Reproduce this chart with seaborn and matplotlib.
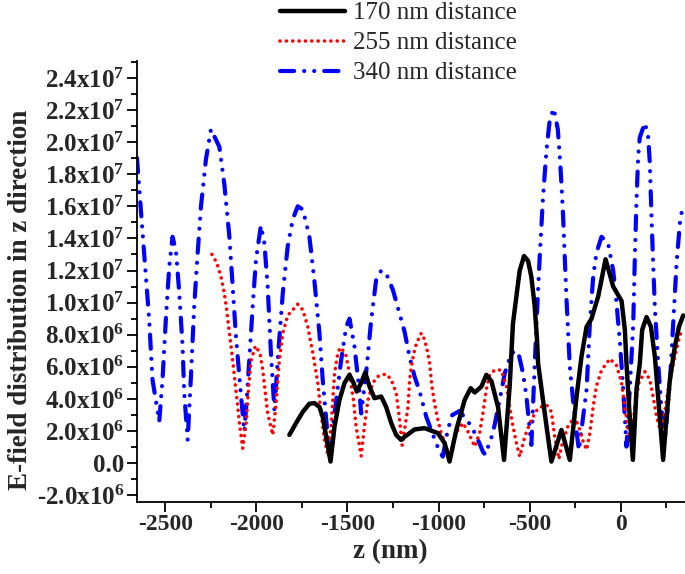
import matplotlib
matplotlib.use("Agg")
import matplotlib.pyplot as plt
import seaborn as sns
import pandas as pd
import numpy as np
from matplotlib.ticker import MultipleLocator, FixedLocator
from matplotlib.lines import Line2D

# ---- data (z in nm, E in units of 1e6) ----
z_170 = [-1819, -1782, -1745, -1709, -1681, -1654, -1636, -1617, -1593, -1571, -1544, -1516,
         -1489, -1467, -1449, -1425, -1403, -1379, -1352, -1315, -1288, -1260, -1233, -1206,
         -1196, -1132, -1077, -1004, -967, -940, -903, -857, -824, -802, -765, -738, -710,
         -674, -641, -610, -592, -573, -555, -531, -509, -491, -473, -460, -454, -408, -381,
         -326, -280, -243, -216, -188, -161, -124, -84, -42, 4, 22, 31, 44, 66, 86, 104, 117,
         141, 165, 187, 209, 232, 251, 269, 297, 319, 342]
e_170 = [1.76, 2.5, 3.2, 3.7, 3.74, 3.5, 2.9, 1.66, 0.1, 2.3, 3.94, 5.0,
         5.5, 5.0, 4.46, 5.0, 5.65, 4.77, 4.05, 4.15, 3.5, 2.5, 1.76, 1.45,
         1.56, 2.1, 2.18, 1.87, 1.25, 0.1, 2.07, 3.94, 4.67, 4.4, 4.77, 5.5, 5.1,
         3.5, 0.2, 4.8, 8.7, 10.4, 12.0, 12.9, 12.6, 11.6, 9.8, 7.7, 6.2, 2.3, 0.1,
         2.07, 0.2, 4.15, 6.64, 8.5, 9.0, 10.4, 12.7, 11.0, 10.1, 8.3, 6.2, 3.7, 0.2, 4.6, 6.2, 8.3,
         9.1, 8.5, 6.6, 3.5, 0.2, 2.9, 5.2, 7.3, 8.5, 9.2]

z_255 = [-2244, -2218, -2194, -2176, -2163, -2152, -2139, -2126, -2115, -2102, -2093, -2075,
         -2056, -2042, -2029, -2005, -1980, -1965, -1951, -1938, -1910,
         -1892, -1874, -1855, -1828, -1773, -1745, -1718, -1690, -1663, -1645, -1626, -1608,
         -1590, -1571, -1553, -1540, -1511, -1489, -1467, -1453, -1425,
         -1407, -1388, -1361, -1334, -1288, -1260, -1233, -1215, -1200,
         -1187, -1168, -1159, -1150, -1136, -1123, -1095, -1077, -1059, -1049, -1037, -1022,
         -1004, -986, -958, -940, -921, -894, -866, -839, -802, -775, -757, -738, -720, -692,
         -656, -628, -610, -592, -573, -555, -527, -491, -454, -408, -381, -363, -340,
         -326, -290, -253, -225, -207, -188, -170, -152, -134, -106, -60, -24, 4, 22, 37, 55,
         77, 99, 132, 159, 177, 196, 220, 242, 269, 297, 324, 342]
e_255 = [13.0, 12.5, 11.6, 10.6, 9.55, 8.5, 7.3, 6.0, 4.8, 3.5, 2.5, 0.93,
         2.5, 4.8, 6.4, 7.3, 6.85, 5.8, 4.4, 3.1, 1.76,
         3.7, 6.4, 8.1, 9.2, 9.9, 9.55, 8.5, 6.85, 5.0, 3.1, 1.45, 0.52,
         2.3, 5.6, 6.85, 7.2, 6.85, 5.6, 3.9, 2.3, 0.45,
         2.3, 3.9, 5.0, 5.4, 5.56, 5.2, 4.4, 2.8, 1.1,
         2.07, 3.5, 5.2, 6.0, 6.85, 7.4, 8.1, 7.7, 6.85, 6.2, 4.8, 3.7,
         2.7, 1.87, 1.03, 0.3, 1.25, 2.07, 2.5, 1.97, 1.03, 1.87, 3.1, 4.6, 5.5, 5.8,
         5.8, 4.8, 3.5, 2.3, 1.25, 0.41, 1.66, 2.7, 3.43, 3.63, 3.2, 1.66, 0.25,
         1.03, 2.3, 2.9, 2.07, 1.35, 0.83, 1.87, 3.5, 4.8, 5.8, 6.5, 6.1, 5.0, 3.5, 2.3, 1.25,
         3.5, 5.0, 5.7, 5.2, 4.15, 2.9, 1.87, 3.3, 5.2, 6.64, 8.0, 8.3]

z_340 = [-2655, -2634, -2607, -2588, -2570, -2533, -2515, -2496, -2478, -2460, -2441, -2423,
         -2405, -2396, -2377, -2359, -2341, -2322, -2304, -2277, -2249, -2203, -2176, -2148,
         -2130, -2112, -2084, -2066, -2048, -2020, -2002, -1975, -1956, -1938, -1920, -1901,
         -1883, -1855, -1828, -1800, -1773, -1745, -1709, -1682, -1654, -1636, -1617, -1599,
         -1571, -1535, -1507, -1489, -1462, -1434, -1425, -1398, -1370, -1343, -1315, -1287,
         -1251, -1214, -1187, -1159, -1132, -1104, -1068, -1031, -995, -977, -950, -925, -885,
         -820, -784, -757, -744, -702, -665, -637, -601, -582, -564, -537, -518, -500, -491,
         -463, -445, -427, -408, -390, -368, -346, -335, -326, -317, -308, -299, -290, -280,
         -262, -244, -230, -188, -170, -152, -134, -106, -70, -42, -24, -5, 13, 31, 49, 68,
         77, 86, 95, 104, 132, 150, 159, 168, 177, 187, 205, 223, 242, 269, 287, 306, 324, 342]
e_340 = [19.0, 15.8, 11.8, 8.9, 5.2, 2.6, 5.2, 9.1, 12.25, 14.1, 13.2, 10.6,
         7.3, 4.4, 1.45, 5.4, 9.8, 13.1, 16.0, 18.9, 20.8, 19.7, 17.4, 14.1,
         11.0, 7.9, 4.15, 1.97, 4.8, 9.8, 12.7, 14.8, 13.7, 11.0, 6.85, 3.3,
         6.4, 10.6, 13.5, 15.2, 16.0, 15.8, 14.1, 11.4, 8.1, 5.2, 2.7, 0.41,
         3.1, 6.4, 8.5, 9.0, 7.3, 4.4, 3.1, 5.6, 8.9, 11.4, 12.0, 11.8,
         10.8, 9.3, 8.2, 6.6, 5.4, 4.46, 2.9, 1.76, 0.72, 0.41, 2.07, 3.0, 3.25,
         2.3, 1.45, 0.72, 0.52, 1.87, 3.94, 5.6, 6.85, 6.95, 6.95, 5.6, 4.15, 2.07, 1.14,
         8.7, 12.9, 16.6, 19.5, 21.4, 22.1, 20.8, 19.1, 17.4, 15.4, 12.9, 10.4, 8.3, 6.0,
         3.9, 2.07, 0.8, 4.6, 8.7, 11.6, 13.1, 14.1, 13.7, 12.0, 10.0, 7.5, 4.6, 1.03, 4.6, 8.7,
         12.9, 16.4, 19.1, 20.3, 21.2, 20.3, 18.7, 15.4, 12.5, 9.6, 6.2, 3.3, 1.45, 5.0, 8.7, 12.5, 14.95, 16.2]

series_labels = ["170 nm distance", "255 nm distance", "340 nm distance"]
y_ticks = [-2e6, 0, 2e6, 4e6, 6e6, 8e6, 1e7, 1.2e7, 1.4e7, 1.6e7, 1.8e7, 2.0e7, 2.2e7, 2.4e7]
x_ticks = [-2500, -2000, -1500, -1000, -500, 0]

# ---- style ----
sns.set_theme(style="ticks")
plt.rcParams['font.family'] = ['Liberation Serif', 'DejaVu Serif']
plt.rcParams['mathtext.fontset'] = 'custom'
plt.rcParams['mathtext.rm'] = 'Liberation Serif'
plt.rcParams['mathtext.bf'] = 'Liberation Serif:bold'
plt.rcParams['mathtext.it'] = 'Liberation Serif:italic'

fig = plt.figure(figsize=(6.85, 5.74), dpi=100)
ax = fig.add_axes([137/685, 1-502/574, 1-137/685, (502-61)/574])

frames = []
for zs, es, lab in [(z_170, e_170, series_labels[0]),
                    (z_255, e_255, series_labels[1]),
                    (z_340, e_340, series_labels[2])]:
    frames.append(pd.DataFrame({"z": zs, "E": np.array(es) * 1e6, "series": lab}))
df = pd.concat(frames, ignore_index=True)

colors = {series_labels[0]: "black", series_labels[1]: "#ff0000", series_labels[2]: "#0000ff"}
styles = {series_labels[0]: dict(lw=3.2, ls='-'),
          series_labels[1]: dict(lw=2.6, ls=(0, (0.01, 1.75))),
          series_labels[2]: dict(lw=3.0, ls=(0, (3.4, 2.4, 0.01, 2.4, 0.01, 2.4)))}

handles = []
for lab in [series_labels[2], series_labels[1], series_labels[0]]:
    sub = df[df["series"] == lab]
    sns.lineplot(data=sub, x="z", y="E", ax=ax, sort=False, estimator=None,
                 color=colors[lab], lw=styles[lab]['lw'], linestyle=styles[lab]['ls'],
                 legend=False)
    ax.lines[-1].set_dash_capstyle('round')
    ax.lines[-1].set_solid_capstyle('round')
    ax.lines[-1].set_solid_joinstyle('round')

for lab in series_labels:
    h = Line2D([], [], color=colors[lab], lw=styles[lab]['lw'], linestyle=styles[lab]['ls'],
               dash_capstyle='round')
    handles.append(h)

ax.set_xlim(-2655, 352)
ax.set_ylim(-2.42e6, 2.505e7)

ax.xaxis.set_major_locator(FixedLocator(x_ticks))
ax.xaxis.set_minor_locator(MultipleLocator(250))
ax.yaxis.set_major_locator(FixedLocator(y_ticks))
ax.yaxis.set_minor_locator(MultipleLocator(1e6))

def ylab(v):
    if v == 0:
        return "0.0"
    exp = int(np.floor(np.log10(abs(v))))
    mant = v / 10**exp
    s = "-" if v < 0 else ""
    return s + f"{abs(mant):.1f}x10" + r"$^{\mathbf{" + str(exp) + "}}$"

ax.set_yticklabels([ylab(v) for v in y_ticks], fontsize=18, fontweight='bold')
ax.set_xticklabels([str(v) for v in x_ticks], fontsize=17, fontweight='bold')

for s in ['top', 'right']:
    ax.spines[s].set_visible(False)
for s in ['left', 'bottom']:
    ax.spines[s].set_linewidth(1.3)
    ax.spines[s].set_color('black')

ax.tick_params(which='major', length=7, width=1.3, direction='out', color='black', pad=2)
ax.tick_params(which='minor', length=4, width=1.3, direction='out', color='black')

ax.set_xlabel("z (nm)", fontsize=19.5, fontweight='bold')
ax.set_ylabel("E-field distribution in z direction", fontsize=19.5, fontweight='bold')
ax.xaxis.set_label_coords(0.462, -0.085)
ax.yaxis.set_label_coords(-0.19, 0.458)

fig.legend(handles, series_labels, loc='upper center', bbox_to_anchor=(0.582, 1.014),
           frameon=False, fontsize=18, handlelength=2.6, handletextpad=0.3,
           labelspacing=0.3, borderaxespad=0)

fig.savefig("out.png", dpi=100)
